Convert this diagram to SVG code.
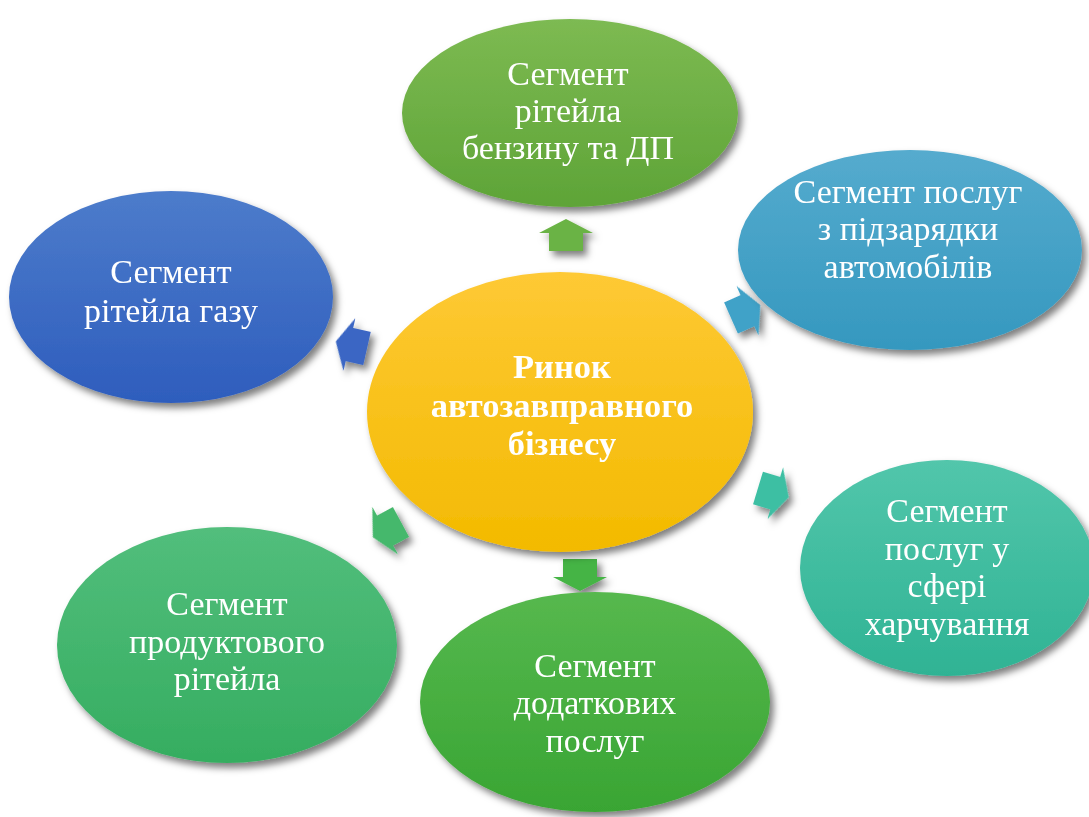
<svg xmlns="http://www.w3.org/2000/svg" xmlns:xlink="http://www.w3.org/1999/xlink" width="1089" height="817" viewBox="0 0 1089 817">
<defs>
<style>
.t{font-family:"Liberation Serif","Times New Roman",serif;font-size:34px;fill:#ffffff;text-anchor:middle}
.tc{font-family:"Liberation Serif","Times New Roman",serif;font-size:34.5px;font-weight:bold;fill:#ffffff;text-anchor:middle}
</style>
<filter id="sh" x="-20%" y="-20%" width="140%" height="140%">
<feDropShadow dx="4" dy="5" stdDeviation="3.5" flood-color="#000" flood-opacity="0.5"/>
</filter>
<linearGradient id="gTop" x1="0" y1="0" x2="0" y2="1"><stop offset="0" stop-color="#7dba52"/><stop offset="1" stop-color="#5ea437"/></linearGradient>
<linearGradient id="gTR" x1="0" y1="0" x2="0" y2="1"><stop offset="0" stop-color="#55abce"/><stop offset="1" stop-color="#3598bf"/></linearGradient>
<linearGradient id="gL" x1="0" y1="0" x2="0" y2="1"><stop offset="0" stop-color="#4d7ccb"/><stop offset="1" stop-color="#2e5dbd"/></linearGradient>
<linearGradient id="gRB" x1="0" y1="0" x2="0" y2="1"><stop offset="0" stop-color="#52c6ab"/><stop offset="1" stop-color="#2fb394"/></linearGradient>
<linearGradient id="gBL" x1="0" y1="0" x2="0" y2="1"><stop offset="0" stop-color="#52be7c"/><stop offset="1" stop-color="#35ad60"/></linearGradient>
<linearGradient id="gB" x1="0" y1="0" x2="0" y2="1"><stop offset="0" stop-color="#56b84e"/><stop offset="1" stop-color="#39a533"/></linearGradient>
<linearGradient id="gC" x1="0" y1="0" x2="0" y2="1"><stop offset="0" stop-color="#fec935"/><stop offset="1" stop-color="#f3ba00"/></linearGradient>
<polygon id="arr" points="0,-17 18,-17 18,-27 32,0 18,27 18,17 0,17"/>
</defs>
<rect width="1089" height="817" fill="#ffffff"/>
<g id="connectors" filter="url(#sh)">
<use xlink:href="#arr" href="#arr" fill="#6ab344" transform="translate(566,251) rotate(-90)"/>
<use xlink:href="#arr" href="#arr" fill="#3fa2c8" transform="translate(731,318) rotate(-24)"/>
<use xlink:href="#arr" href="#arr" fill="#3a66c4" transform="translate(367,348.5) rotate(192.7)"/>
<use xlink:href="#arr" href="#arr" fill="#3cbfa3" transform="translate(758,488) rotate(16.8)"/>
<use xlink:href="#arr" href="#arr" fill="#45b86c" transform="translate(401,522) rotate(151.6)"/>
<use xlink:href="#arr" href="#arr" fill="#45b444" transform="translate(580,559) rotate(90)"/>
</g>
<g id="node-top">
<ellipse cx="570" cy="113" rx="168" ry="94" fill="url(#gTop)" filter="url(#sh)"/>
<text class="t" x="568" y="85">Сегмент</text>
<text class="t" x="568" y="122">рітейла</text>
<text class="t" x="568" y="159">бензину та ДП</text>
</g>
<g id="node-topright">
<ellipse cx="910" cy="250" rx="172" ry="100" fill="url(#gTR)" filter="url(#sh)"/>
<text class="t" x="908" y="203">Сегмент послуг</text>
<text class="t" x="908" y="240">з підзарядки</text>
<text class="t" x="908" y="278">автомобілів</text>
</g>
<g id="node-left">
<ellipse cx="171" cy="297" rx="162" ry="106" fill="url(#gL)" filter="url(#sh)"/>
<text class="t" x="171" y="283">Сегмент</text>
<text class="t" x="171" y="322">рітейла газу</text>
</g>
<g id="node-rightbottom">
<ellipse cx="947" cy="568" rx="147" ry="108" fill="url(#gRB)" filter="url(#sh)"/>
<text class="t" x="947" y="522">Сегмент</text>
<text class="t" x="947" y="560">послуг у</text>
<text class="t" x="947" y="597">сфері</text>
<text class="t" x="947" y="635">харчування</text>
</g>
<g id="node-bottomleft">
<ellipse cx="227" cy="645" rx="170" ry="118" fill="url(#gBL)" filter="url(#sh)"/>
<text class="t" x="227" y="615">Сегмент</text>
<text class="t" x="227" y="653">продуктового</text>
<text class="t" x="227" y="690">рітейла</text>
</g>
<g id="node-bottom">
<ellipse cx="595" cy="702" rx="175" ry="110" fill="url(#gB)" filter="url(#sh)"/>
<text class="t" x="595" y="677">Сегмент</text>
<text class="t" x="595" y="714">додаткових</text>
<text class="t" x="595" y="752">послуг</text>
</g>
<g id="node-center">
<ellipse cx="560" cy="412" rx="193" ry="140" fill="url(#gC)" filter="url(#sh)"/>
<text class="tc" x="562" y="378">Ринок</text>
<text class="tc" x="562" y="417">автозавправного</text>
<text class="tc" x="562" y="455">бізнесу</text>
</g>
</svg>
